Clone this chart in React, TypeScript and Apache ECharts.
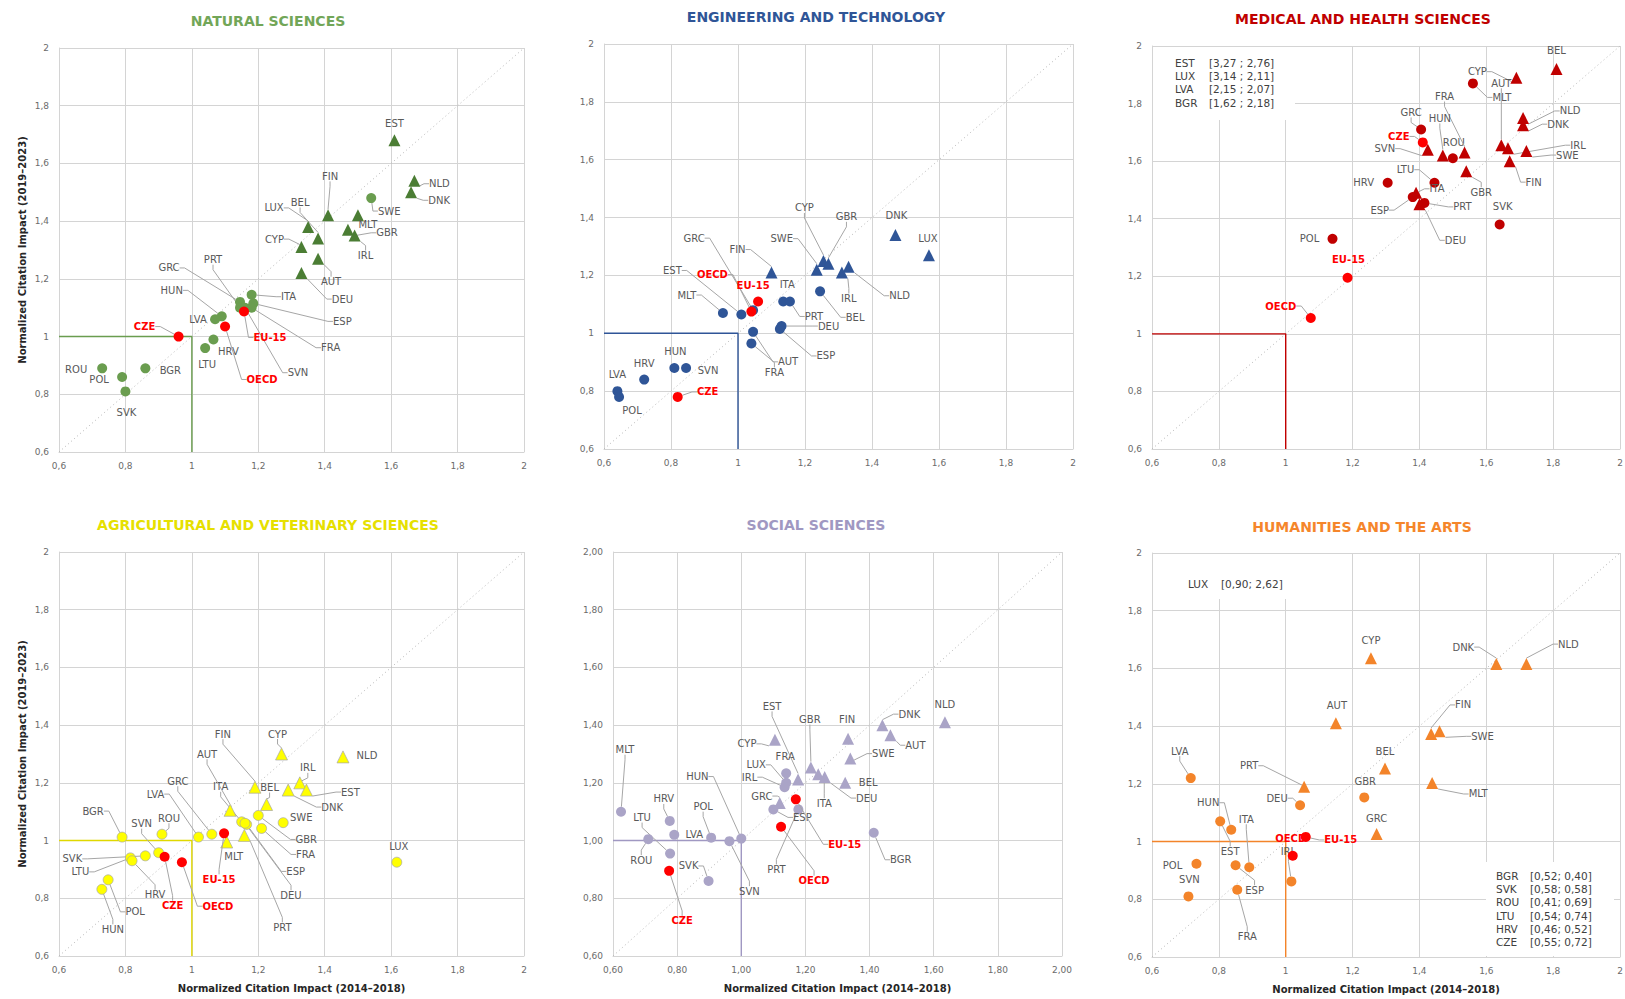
import React, { useEffect, useRef } from "react";
import * as echarts from "echarts";

// [country, Normalized Citation Impact 2014–2018, Normalized Citation Impact 2019–2023, marker group]
// marker group: "t" = triangle, "c" = circle, "r" = reference point (CZE, EU-15, OECD)
type Row = [string, number, number, string];

const naturalSciences: Row[] = [
  ["EST", 1.61, 1.68, "t"], ["NLD", 1.67, 1.54, "t"], ["DNK", 1.66, 1.5, "t"], ["SWE", 1.54, 1.48, "c"],
  ["FIN", 1.41, 1.42, "t"], ["MLT", 1.5, 1.42, "t"], ["GBR", 1.47, 1.37, "t"], ["IRL", 1.49, 1.35, "t"],
  ["LUX", 1.35, 1.38, "t"], ["BEL", 1.38, 1.34, "t"], ["CYP", 1.33, 1.31, "t"], ["AUT", 1.38, 1.27, "t"],
  ["DEU", 1.33, 1.22, "t"], ["ITA", 1.18, 1.145, "c"], ["GRC", 1.145, 1.12, "c"], ["PRT", 1.145, 1.1, "c"],
  ["ESP", 1.185, 1.115, "c"], ["FRA", 1.18, 1.1, "c"], ["SVN", 1.16, 1.1, "c"], ["HUN", 1.09, 1.07, "c"],
  ["LVA", 1.07, 1.06, "c"], ["HRV", 1.065, 0.99, "c"], ["LTU", 1.04, 0.96, "c"], ["ROU", 0.73, 0.89, "c"],
  ["POL", 0.79, 0.86, "c"], ["BGR", 0.86, 0.89, "c"], ["SVK", 0.8, 0.81, "c"],
  ["CZE", 0.96, 1.0, "r"], ["EU-15", 1.157, 1.087, "r"], ["OECD", 1.1, 1.035, "r"],
];

const engineeringTechnology: Row[] = [
  ["DNK", 1.47, 1.34, "t"], ["LUX", 1.57, 1.27, "t"], ["CYP", 1.255, 1.25, "t"], ["GBR", 1.27, 1.24, "t"],
  ["SWE", 1.235, 1.22, "t"], ["IRL", 1.31, 1.21, "t"], ["NLD", 1.33, 1.23, "t"], ["FIN", 1.1, 1.21, "t"],
  ["BEL", 1.245, 1.145, "c"], ["ITA", 1.135, 1.11, "c"], ["PRT", 1.155, 1.11, "c"], ["GRC", 1.045, 1.08, "c"],
  ["EST", 1.01, 1.065, "c"], ["MLT", 0.955, 1.07, "c"], ["DEU", 1.13, 1.025, "c"], ["ESP", 1.125, 1.015, "c"],
  ["AUT", 1.045, 1.005, "c"], ["FRA", 1.04, 0.965, "c"], ["HUN", 0.81, 0.88, "c"], ["SVN", 0.845, 0.88, "c"],
  ["HRV", 0.72, 0.84, "c"], ["LVA", 0.64, 0.8, "c"], ["POL", 0.645, 0.78, "c"],
  ["CZE", 0.82, 0.78, "r"], ["EU-15", 1.06, 1.11, "r"], ["OECD", 1.04, 1.075, "r"],
];

const medicalHealth: Row[] = [
  ["BEL", 1.81, 1.92, "t"], ["CYP", 1.69, 1.89, "t"], ["MLT", 1.56, 1.87, "c"], ["AUT", 1.645, 1.655, "t"],
  ["IRL", 1.665, 1.645, "t"], ["FRA", 1.535, 1.63, "t"], ["NLD", 1.71, 1.75, "t"], ["DNK", 1.71, 1.725, "t"],
  ["SWE", 1.72, 1.635, "t"], ["FIN", 1.67, 1.6, "t"], ["GBR", 1.54, 1.565, "t"], ["SVK", 1.64, 1.38, "c"],
  ["GRC", 1.405, 1.71, "c"], ["SVN", 1.425, 1.64, "t"], ["HUN", 1.47, 1.62, "t"], ["ROU", 1.5, 1.61, "c"],
  ["LTU", 1.445, 1.525, "c"], ["HRV", 1.305, 1.525, "c"], ["ITA", 1.39, 1.49, "t"], ["ESP", 1.38, 1.475, "c"],
  ["PRT", 1.415, 1.455, "c"], ["DEU", 1.4, 1.45, "t"], ["POL", 1.14, 1.33, "c"],
  ["CZE", 1.41, 1.665, "r"], ["EU-15", 1.185, 1.195, "r"], ["OECD", 1.075, 1.055, "r"],
];

const agriculturalVeterinary: Row[] = [
  ["CYP", 1.27, 1.3, "t"], ["NLD", 1.455, 1.29, "t"], ["IRL", 1.325, 1.2, "t"], ["EST", 1.345, 1.175, "t"],
  ["DNK", 1.29, 1.175, "t"], ["FIN", 1.19, 1.185, "t"], ["BEL", 1.225, 1.125, "t"], ["AUT", 1.115, 1.105, "t"],
  ["ITA", 1.15, 1.065, "c"], ["SWE", 1.275, 1.062, "c"], ["GBR", 1.2, 1.087, "c"], ["FRA", 1.21, 1.042, "c"],
  ["ESP", 1.165, 1.056, "c"], ["DEU", 1.16, 1.06, "c"], ["PRT", 1.158, 1.018, "t"], ["MLT", 1.105, 0.995, "t"],
  ["GRC", 1.06, 1.022, "c"], ["LVA", 1.02, 1.012, "c"], ["ROU", 0.91, 1.022, "c"], ["BGR", 0.79, 1.012, "c"],
  ["SVN", 0.9, 0.958, "c"], ["SVK", 0.86, 0.947, "c"], ["LTU", 0.815, 0.94, "c"], ["HRV", 0.82, 0.93, "c"],
  ["POL", 0.748, 0.864, "c"], ["HUN", 0.729, 0.831, "c"], ["LUX", 1.617, 0.925, "c"],
  ["CZE", 0.918, 0.944, "r"], ["OECD", 0.97, 0.925, "r"], ["EU-15", 1.097, 1.025, "r"],
];

const socialSciences: Row[] = [
  ["NLD", 1.635, 1.41, "t"], ["DNK", 1.44, 1.4, "t"], ["AUT", 1.465, 1.365, "t"], ["FIN", 1.333, 1.353, "t"],
  ["SWE", 1.34, 1.284, "t"], ["CYP", 1.105, 1.349, "t"], ["BEL", 1.324, 1.2, "t"], ["GBR", 1.217, 1.253, "t"],
  ["ITA", 1.24, 1.23, "t"], ["DEU", 1.26, 1.22, "t"], ["EST", 1.177, 1.212, "t"], ["FRA", 1.14, 1.233, "c"],
  ["LUX", 1.14, 1.2, "c"], ["IRL", 1.135, 1.185, "c"], ["GRC", 1.12, 1.13, "t"], ["ESP", 1.1, 1.108, "c"],
  ["PRT", 1.178, 1.108, "c"], ["HUN", 1.0, 1.007, "c"], ["SVN", 0.963, 0.998, "c"], ["POL", 0.906, 1.01, "c"],
  ["LVA", 0.791, 1.02, "c"], ["HRV", 0.777, 1.068, "c"], ["LTU", 0.778, 0.955, "c"], ["ROU", 0.71, 1.005, "c"],
  ["MLT", 0.625, 1.1, "c"], ["SVK", 0.898, 0.86, "c"], ["BGR", 1.413, 1.027, "c"],
  ["CZE", 0.775, 0.895, "r"], ["EU-15", 1.17, 1.143, "r"], ["OECD", 1.124, 1.048, "r"],
];

const humanitiesArts: Row[] = [
  ["CYP", 1.255, 1.635, "t"], ["DNK", 1.63, 1.615, "t"], ["NLD", 1.72, 1.615, "t"], ["AUT", 1.15, 1.41, "t"],
  ["FIN", 1.435, 1.373, "t"], ["SWE", 1.46, 1.382, "t"], ["BEL", 1.297, 1.253, "t"], ["MLT", 1.438, 1.203, "t"],
  ["PRT", 1.055, 1.19, "t"], ["GRC", 1.272, 1.026, "t"], ["GBR", 1.235, 1.153, "c"], ["DEU", 1.043, 1.126, "c"],
  ["LVA", 0.716, 1.22, "c"], ["HUN", 0.837, 1.041, "c"], ["EST", 0.804, 1.07, "c"], ["ITA", 0.891, 0.911, "c"],
  ["ESP", 0.85, 0.918, "c"], ["FRA", 0.855, 0.833, "c"], ["POL", 0.733, 0.923, "c"], ["SVN", 0.709, 0.81, "c"],
  ["IRL", 1.017, 0.862, "c"],
  ["EU-15", 1.06, 1.016, "r"], ["OECD", 1.021, 0.951, "r"],
];

// Values outside the plotted range, listed in text boxes: [country, 2014–2018, 2019–2023]
const medicalOffChart = [["EST", "3,27", "2,76"], ["LUX", "3,14", "2,11"], ["LVA", "2,15", "2,07"], ["BGR", "1,62", "2,18"]];
const humanitiesOffChartTop = [["LUX", "0,90", "2,62"]];
const humanitiesOffChartBottom = [
  ["BGR", "0,52", "0,40"], ["SVK", "0,58", "0,58"], ["ROU", "0,41", "0,69"],
  ["LTU", "0,54", "0,74"], ["HRV", "0,46", "0,52"], ["CZE", "0,55", "0,72"],
];

const AXIS_MIN = 0.6;
const AXIS_MAX = 2;
const AXIS_STEP = 0.2;
const REFERENCE = 1;
const X_NAME = "Normalized Citation Impact (2014\u20132018)";
const Y_NAME = "Normalized Citation Impact (2019\u20132023)";

// ---- label placement (pixel offsets of label centre from its point, leader line flag) ----
type LabelPos = Record<string, number[]>;
const naturalLabelPos: LabelPos = {
  EST: [0, -17, 0], NLD: [25, 3, 1], DNK: [28, 8, 1], SWE: [18, 13, 1], FIN: [2, -39, 1], MLT: [10, 9, 0],
  GBR: [39, 3, 1], IRL: [11, 20, 1], LUX: [-34, -19, 1], BEL: [-18, -36, 1], CYP: [-27, -8, 1], AUT: [13, 23, 1],
  DEU: [41, 26, 1], ITA: [37, 2, 1], GRC: [-71, -34, 1], PRT: [-27, -48, 1], ESP: [89, 18, 1], FRA: [79, 40, 1],
  SVN: [53, 65, 1], HUN: [-50, -26, 1], LVA: [-17, 0, 0], HRV: [15, 12, 0], LTU: [2, 16, 0], ROU: [-26, 1, 0],
  POL: [-23, 3, 0], BGR: [25, 2, 0], SVK: [1, 21, 0], CZE: [-34, -10, 1], "EU-15": [26, 26, 1], OECD: [37, 53, 1],
};
const engineeringLabelPos: LabelPos = {
  DNK: [1, -19, 0], LUX: [-1, -17, 0], CYP: [-19, -53, 1], GBR: [18, -47, 1], SWE: [-35, -31, 1], IRL: [7, 26, 1],
  NLD: [51, 29, 1], FIN: [-34, -23, 1], BEL: [35, 26, 1], ITA: [4, -17, 0], PRT: [24, 15, 1], GRC: [-59, -72, 1],
  EST: [-69, -44, 1], MLT: [-36, -18, 1], DEU: [47, 0, 1], ESP: [46, 27, 1], AUT: [35, 30, 1], FRA: [23, 29, 1],
  HUN: [1, -17, 0], SVN: [22, 2, 0], HRV: [0, -16, 0], LVA: [0, -17, 0], POL: [13, 14, 0], CZE: [30, -5, 1],
  "EU-15": [-5, -16, 0], OECD: [-39, -37, 1],
};
const medicalLabelPos: LabelPos = {
  BEL: [0, -19, 0], CYP: [-39, -6, 1], AUT: [0, -62, 1], MLT: [29, 14, 1], FRA: [-20, -56, 1], NLD: [47, -7, 1],
  DNK: [35, -1, 1], IRL: [70, -3, 1], SWE: [41, 4, 1], FIN: [24, 21, 1], GBR: [15, 21, 1], SVK: [3, -18, 0],
  GRC: [-10, -17, 1], CZE: [-24, -6, 1], SVN: [-43, -1, 1], HUN: [-3, -37, 1], ROU: [1, -16, 0], LTU: [-29, -13, 1],
  HRV: [-24, 0, 0], ITA: [21, -4, 1], ESP: [-33, 13, 1], PRT: [38, 4, 1], DEU: [36, 36, 1], POL: [-23, 0, 0],
  "EU-15": [1, -18, 0], OECD: [-30, -12, 1],
};
const agriculturalLabelPos: LabelPos = {
  CYP: [-4, -20, 1], NLD: [24, -1, 0], IRL: [8, -15, 1], EST: [44, 2, 1], DNK: [44, 17, 1], FIN: [-32, -53, 1],
  BEL: [3, -17, 1], AUT: [-23, -56, 1], ITA: [-21, -35, 1], SWE: [18, -5, 0], GBR: [48, 24, 1], FRA: [44, 26, 1],
  ESP: [49, 47, 1], DEU: [46, 72, 1], PRT: [38, 92, 1], MLT: [7, 14, 0], GRC: [-34, -53, 1], LVA: [-43, -43, 1],
  ROU: [7, -16, 1], BGR: [-29, -26, 1], SVN: [-17, -29, 1], SVK: [-73, 3, 1], LTU: [-50, 14, 1], HRV: [23, 34, 1],
  POL: [27, 32, 1], HUN: [11, 40, 1], LUX: [2, -16, 0], CZE: [8, 49, 1], OECD: [36, 44, 1], "EU-15": [-5, 46, 1],
};
const socialLabelPos: LabelPos = {
  NLD: [0, -18, 0], DNK: [27, -11, 1], AUT: [25, 10, 1], FIN: [-1, -19, 0], SWE: [33, -5, 1], CYP: [-28, 4, 1],
  BEL: [23, 0, 0], GBR: [-1, -48, 1], ITA: [6, 29, 1], DEU: [42, 21, 1], EST: [-26, -73, 1], FRA: [-1, -17, 0],
  LUX: [-30, -18, 1], IRL: [-35, -10, 1], GRC: [-18, -7, 1], ESP: [29, 8, 1], PRT: [-22, 60, 1], HUN: [-44, -62, 1],
  SVN: [20, 50, 1], POL: [-8, -31, 1], LVA: [20, 0, 0], HRV: [-6, -22, 1], LTU: [-28, -36, 1], ROU: [-7, 21, 1],
  MLT: [4, -62, 1], SVK: [-20, -15, 1], CZE: [13, 50, 1], BGR: [27, 27, 1], "EU-15": [49, 45, 1], OECD: [33, 54, 1],
};
const humanitiesLabelPos: LabelPos = {
  CYP: [0, -18, 0], DNK: [-33, -17, 1], NLD: [42, -20, 1], AUT: [1, -18, 0], FIN: [32, -29, 1], SWE: [43, 5, 1],
  BEL: [0, -17, 0], MLT: [46, 11, 1], PRT: [-55, -21, 1], GRC: [0, -16, 0], GBR: [1, -16, 0], DEU: [-23, -7, 1],
  LVA: [-11, -27, 1], HUN: [-23, -27, 1], EST: [10, 30, 1], ITA: [-3, -48, 1], ESP: [19, 25, 1], FRA: [10, 47, 1],
  POL: [-24, 2, 0], SVN: [1, -17, 0], IRL: [-3, -30, 1], "EU-15": [35, 3, 1], OECD: [-2, -17, 0],
};

const FONT = "'DejaVu Sans', Verdana, sans-serif";
const GRID_COLOR = "#d4d4d4";
const TICK_COLOR = "#6b6b6b";
const LABEL_COLOR = "#595959";
const LEADER_COLOR = "#a6a6a6";
const RED = "#ff0000";

const panels = [
  {
    title: "NATURAL SCIENCES", rows: naturalSciences, pos: naturalLabelPos, box: [59, 48, 465, 404], titleAt: [268, 21],
    titleColor: "#72a658", color: "#6a9d4f", triColor: "#4b7d34", lineColor: "#6a9d4f", border: null,
    yName: true, xName: false, digits: 1,
  },
  {
    title: "ENGINEERING AND TECHNOLOGY", rows: engineeringTechnology, pos: engineeringLabelPos, box: [604, 44, 469, 405],
    titleAt: [816, 17], titleColor: "#2f5597", color: "#2f5597", triColor: "#2f5597", lineColor: "#2f5597", border: null,
    yName: false, xName: false, digits: 1,
  },
  {
    title: "MEDICAL AND HEALTH SCIENCES", rows: medicalHealth, pos: medicalLabelPos, box: [1152, 46, 468, 403],
    titleAt: [1363, 19], titleColor: "#c00000", color: "#c00000", triColor: "#c00000", lineColor: "#c00000", border: null,
    yName: false, xName: false, digits: 1,
  },
  {
    title: "AGRICULTURAL AND VETERINARY SCIENCES", rows: agriculturalVeterinary, pos: agriculturalLabelPos, box: [59, 552, 465, 404],
    titleAt: [268, 525], titleColor: "#e6e000", color: "#ffff00", triColor: "#ffff00", lineColor: "#e0d800", border: "#a6a6a6",
    yName: true, xName: true, digits: 1,
  },
  {
    title: "SOCIAL SCIENCES", rows: socialSciences, pos: socialLabelPos, box: [613, 552, 449, 404], titleAt: [816, 525],
    titleColor: "#a098c2", color: "#aaa4c7", triColor: "#aaa4c7", lineColor: "#a098c2", border: null,
    yName: false, xName: true, digits: 2,
  },
  {
    title: "HUMANITIES AND THE ARTS", rows: humanitiesArts, pos: humanitiesLabelPos, box: [1152, 553, 468, 404], titleAt: [1362, 527],
    titleColor: "#f5862b", color: "#f3842a", triColor: "#f3842a", lineColor: "#f3842a", border: null,
    yName: false, xName: true, digits: 1,
  },
];

const offChartBoxes = [
  { rows: medicalOffChart, sep: " ; ", rect: [1153, 47, 142, 73], nameX: 1175, valueX: 1209, top: 56 },
  { rows: humanitiesOffChartTop, sep: "; ", rect: [1178, 554, 112, 45], nameX: 1188, valueX: 1221, top: 577 },
  { rows: humanitiesOffChartBottom, sep: "; ", rect: [1486, 862, 128, 94], nameX: 1496, valueX: 1530, top: 869 },
];

function tickFormatter(digits: number) {
  return (v: number) =>
    digits === 2 ? v.toFixed(2).replace(".", ",") : String(Math.round(v * 10) / 10).replace(".", ",");
}

function buildOption() {
  const grid: any[] = [];
  const xAxis: any[] = [];
  const yAxis: any[] = [];
  const series: any[] = [];
  const graphic: any[] = [];

  panels.forEach((p, i) => {
    const [left, top, width, height] = p.box;
    grid.push({ left, top, width, height, containLabel: false, outerBoundsMode: "none" });
    const axisCommon = {
      type: "value",
      gridIndex: i,
      min: AXIS_MIN,
      max: AXIS_MAX,
      interval: AXIS_STEP,
      axisLine: { show: true, lineStyle: { color: GRID_COLOR, width: 1 } },
      axisTick: { show: false },
      splitLine: { show: true, showMinLine: true, showMaxLine: true, lineStyle: { color: GRID_COLOR, width: 1 } },
      nameLocation: "middle",
      nameTextStyle: { fontSize: 10, fontWeight: "bold", color: "#262626", fontFamily: FONT },
    };
    xAxis.push({
      ...axisCommon,
      axisLabel: {
        fontSize: 9, color: TICK_COLOR, margin: 9, fontFamily: FONT,
        showMinLabel: true, showMaxLabel: true, formatter: tickFormatter(p.digits),
      },
      name: p.xName ? X_NAME : "",
      nameGap: 27,
    });
    yAxis.push({
      ...axisCommon,
      axisLabel: {
        fontSize: 9, color: TICK_COLOR, margin: 10, fontFamily: FONT,
        showMinLabel: true, showMaxLabel: true, formatter: tickFormatter(p.digits),
      },
      name: p.yName ? Y_NAME : "",
      nameGap: 32,
    });

    // identity diagonal
    series.push({
      type: "line", xAxisIndex: i, yAxisIndex: i, silent: true, symbol: "none", z: 1,
      data: [[AXIS_MIN, AXIS_MIN], [AXIS_MAX, AXIS_MAX]],
      lineStyle: { type: [1, 3], color: "#b5b5b5", width: 1 },
    });
    // reference (1,1) corner
    series.push({
      type: "line", xAxisIndex: i, yAxisIndex: i, silent: true, symbol: "none", z: 2,
      data: [[AXIS_MIN, REFERENCE], [REFERENCE, REFERENCE], [REFERENCE, AXIS_MIN]],
      lineStyle: { color: p.lineColor, width: 1.4 },
    });

    const groups = [
      { g: "c", symbol: "circle", size: 10, color: p.color, red: false, z: 3 },
      { g: "t", symbol: "triangle", size: 12, color: p.triColor, red: false, z: 4 },
      { g: "r", symbol: "circle", size: 10, color: RED, red: true, z: 5 },
    ];
    groups.forEach((gr) => {
      const rows = p.rows.filter((r) => r[3] === gr.g);
      if (!rows.length) return;
      const offsets = rows.map((r) => p.pos[r[0]] || [0, -16, 0]);
      series.push({
        type: "scatter",
        xAxisIndex: i,
        yAxisIndex: i,
        symbol: gr.symbol,
        symbolSize: gr.size,
        z: gr.z,
        itemStyle: {
          color: gr.color,
          opacity: 1,
          borderColor: !gr.red && p.border ? p.border : gr.color,
          borderWidth: !gr.red && p.border ? 0.7 : 0,
        },
        emphasis: { disabled: true },
        data: rows.map((r, k) => ({
          name: r[0],
          value: [r[1], r[2]],
          labelLine: { show: offsets[k][2] === 1 },
        })),
        label: {
          show: true,
          position: "inside",
          formatter: "{b}",
          fontFamily: FONT,
          fontSize: 10,
          color: gr.red ? RED : LABEL_COLOR,
          fontWeight: gr.red ? "bold" : "normal",
          textBorderWidth: 0,
        },
        labelLayout: (params: any) => {
          const o = offsets[params.dataIndex] || [0, -16];
          return { dx: o[0], dy: o[1] };
        },
        labelLine: { show: true, length2: 5, lineStyle: { color: LEADER_COLOR, width: 1 } },
      });
    });

    graphic.push({
      type: "text",
      x: p.titleAt[0],
      y: p.titleAt[1],
      z: 100,
      style: {
        text: p.title,
        fill: p.titleColor,
        font: `bold 14px ${FONT}`,
        align: "center",
        verticalAlign: "middle",
        textAlign: "center",
        textVerticalAlign: "middle",
      },
    });
  });

  offChartBoxes.forEach((b) => {
    const [x, y, w, h] = b.rect;
    graphic.push({ type: "rect", z: 100, shape: { x, y, width: w, height: h }, style: { fill: "#ffffff" } });
    graphic.push({
      type: "text", x: b.nameX, y: b.top, z: 101,
      style: { text: b.rows.map((r) => r[0]).join("\n"), font: `10.5px ${FONT}`, fill: "#404040", lineHeight: 13.3 },
    });
    graphic.push({
      type: "text", x: b.valueX, y: b.top, z: 101,
      style: {
        text: b.rows.map((r) => `[${r[1]}${b.sep}${r[2]}]`).join("\n"),
        font: `10.5px ${FONT}`, fill: "#404040", lineHeight: 13.3,
      },
    });
  });

  return {
    animation: false,
    backgroundColor: "#ffffff",
    textStyle: { fontFamily: FONT },
    grid,
    xAxis,
    yAxis,
    series,
    graphic,
  };
}

export default function App() {
  const ref = useRef<HTMLDivElement>(null);
  useEffect(() => {
    if (!ref.current) return;
    const chart = echarts.init(ref.current, undefined, { renderer: "svg" });
    chart.setOption(buildOption() as any);
    return () => chart.dispose();
  }, []);
  return (
    <div
      ref={ref}
      style={{ position: "absolute", left: 0, top: 0, width: 1625, height: 999, background: "#fff" }}
    />
  );
}
